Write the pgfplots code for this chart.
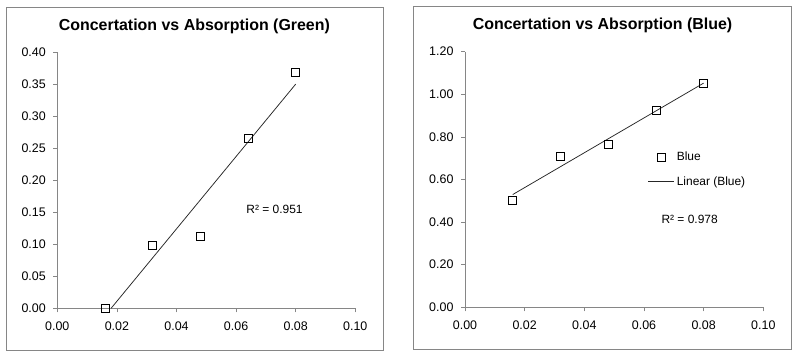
\documentclass[border=0pt]{standalone}
\usepackage{pgfplots}
\pgfplotsset{compat=1.18}
\usepackage{fontspec}
\setmainfont{Liberation Sans}
\definecolor{axgray}{HTML}{868686}
\pgfplotstableread{
x y
0.016 0.000
0.032 0.099
0.048 0.113
0.064 0.266
0.080 0.369
}\greendata
\pgfplotstableread{
x y
0.016 0.504
0.032 0.710
0.048 0.765
0.064 0.926
0.080 1.050
}\bluedata
\pgfplotsset{
  myaxis/.style={
    scale only axis,
    axis lines*=left,
    axis line style={draw=axgray, line width=0.75bp},
    tick style={draw=axgray, line width=0.75bp},
    tick align=outside,
    major tick length=4bp,
    xmin=0, xmax=0.1,
    xtick={0,0.02,0.04,0.06,0.08,0.1},
    scaled x ticks=false, scaled y ticks=false,
    /pgf/number format/assume math mode=true,
    tick label style={font=\fontsize{12.5}{14}\selectfont, text=black},
    xticklabel style={yshift=-6bp, /pgf/number format/.cd, fixed, zerofill, precision=2},
    yticklabel style={xshift=-4bp, /pgf/number format/.cd, fixed, zerofill, precision=2},
    every axis title/.style={at={(0.5,1)}, anchor=center, font=\bfseries\fontsize{16}{19}\selectfont},
    clip=false,
  },
  mypts/.style={only marks, mark=square, mark size=4bp,
    mark options={fill=white, draw=black, line width=0.8bp}},
  mytrend/.style={no marks, draw=black!85, line width=0.75bp},
}
\begin{document}
\begin{tikzpicture}
\path[use as bounding box] (0,0) rectangle (802bp,-359bp);
\fill[white] (0,0) rectangle (802bp,-359bp);
\draw[axgray, line width=0.75bp] (6bp,-7bp) rectangle (383bp,-350bp);
\draw[axgray, line width=0.75bp] (413.3bp,-6.7bp) rectangle (791.7bp,-349.3bp);

\begin{axis}[myaxis,
  at={(57.3bp,-308.3bp)}, anchor=south west,
  width=298bp, height=256bp,
  ymin=0, ymax=0.4,
  ytick={0,0.05,0.1,0.15,0.2,0.25,0.3,0.35,0.4},
  title={Concertation vs Absorption (Green)},
  title style={at={(0.460,1.103)}},
]
\addplot[mypts] table[x=x,y=y] {\greendata};
\addplot[mytrend] coordinates {(0.01805,0) (0.08,0.3503)};
\node[font=\fontsize{12}{14}\selectfont] at (axis cs:0.0729,0.155) {R² = 0.951};
\end{axis}

\begin{axis}[myaxis,
  at={(465bp,-307.3bp)}, anchor=south west,
  width=298.3bp, height=255.6bp,
  ymin=0, ymax=1.2,
  ytick={0,0.2,0.4,0.6,0.8,1.0,1.2},
  title={Concertation vs Absorption (Blue)},
  title style={at={(0.461,1.1045)}},
  legend style={draw=none, fill=none, at={(0.613,0.615)}, anchor=north west,
    font=\fontsize{12}{14}\selectfont, row sep=10bp, inner sep=0pt},
  legend cell align=left,
]
\addplot[mypts, legend image code/.code={\draw[mark repeat=2,mark phase=2] plot coordinates {(0bp,0bp) (13bp,0bp) (26bp,0bp)};}] table[x=x,y=y] {\bluedata};
\addlegendentry{Blue}
\addplot[mytrend, legend image code/.code={\draw (0bp,0bp) -- (26bp,0bp);}] coordinates {(0.016,0.5294) (0.08,1.0526)};
\addlegendentry{Linear (Blue)}
\node[font=\fontsize{12}{14}\selectfont] at (axis cs:0.0753,0.4146) {R² = 0.978};
\end{axis}
\end{tikzpicture}
\end{document}
